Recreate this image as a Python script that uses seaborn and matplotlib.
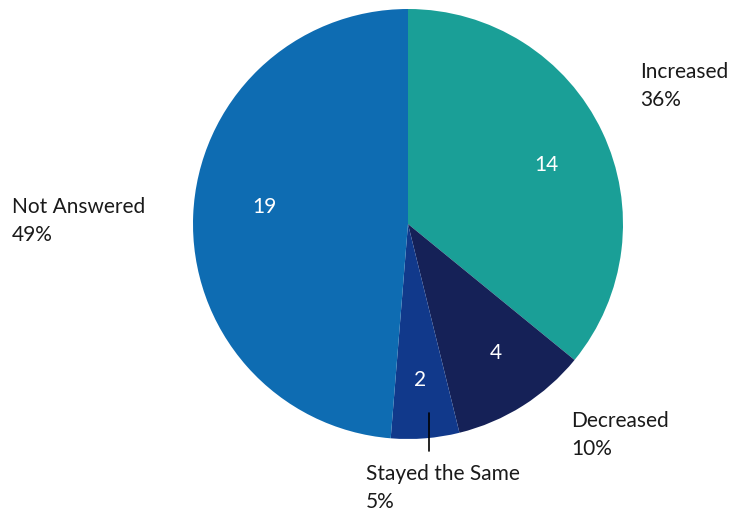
import matplotlib
matplotlib.use("Agg")
import matplotlib.pyplot as plt
import seaborn as sns

categories = ["Increased", "Decreased", "Stayed the Same", "Not Answered"]
counts = [14, 4, 2, 19]
percent_labels = ["36%", "10%", "5%", "49%"]

sns.set_theme(style="white")
plt.rcParams['font.family'] = ['Lato', 'DejaVu Sans']
colors = ["#1a9f97", "#152157", "#11398b", "#0e6cb2"]

fig = plt.figure(figsize=(7.35, 5.15), dpi=100)
ax = fig.add_axes([0, 0, 1, 1])

H = 515
cx, cy, r = 408, H - 224, 215
ax.pie(counts, colors=colors, startangle=90, counterclock=False,
       center=(cx, cy), radius=r, frame=True,
       wedgeprops=dict(linewidth=0))
ax.set_xlim(0, 735)
ax.set_ylim(0, 515)
ax.set_aspect("equal")
ax.axis("off")

# value labels inside wedges
inner_pos = [(546, 165), (496, 353), (420, 380), (264, 207)]
for (x, y), v in zip(inner_pos, counts):
    ax.text(x, H - y, str(v), color="white", fontsize=15,
            ha="center", va="center")

# outer category labels
outer_pos = [(640, 86), (571, 435), (366, 488), (12, 221)]
for (x, y), c, p in zip(outer_pos, categories, percent_labels):
    ax.text(x, H - y, f"{c}\n{p}", color="#1a1a1a", fontsize=15,
            ha="left", va="center", linespacing=1.5)

# leader line for small slice
ax.plot([429, 429], [H - 413, H - 451], color="black", linewidth=1.2)

fig.savefig("out.png", dpi=100)
